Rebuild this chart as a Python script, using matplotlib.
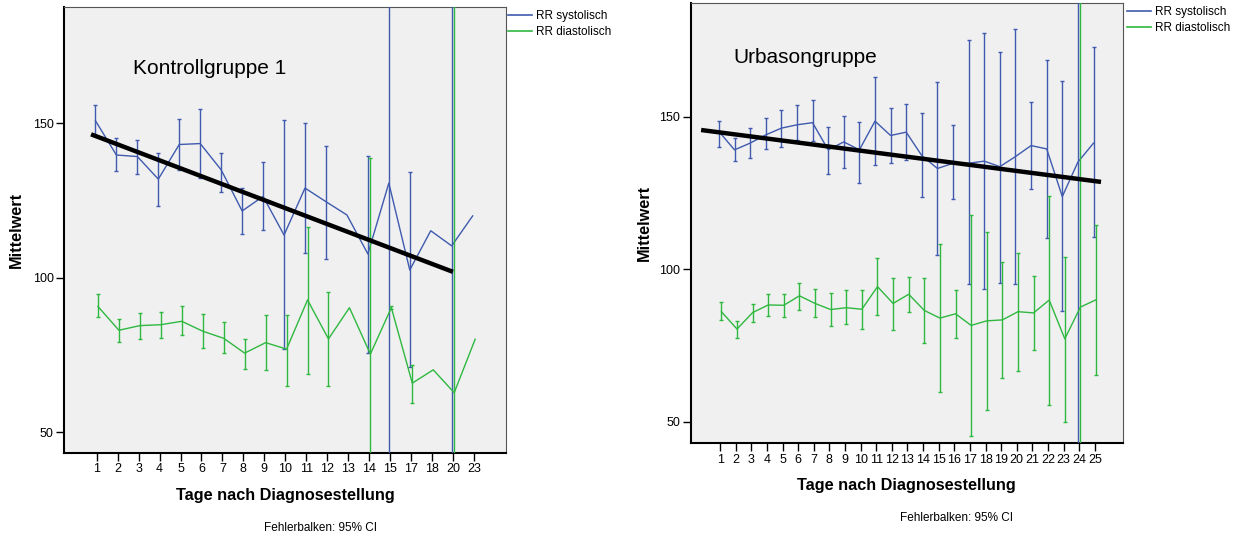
import numpy as np
import matplotlib
matplotlib.use("Agg")
import matplotlib.pyplot as plt
from matplotlib.lines import Line2D

plt.rcParams['font.family'] = ['Liberation Sans', 'DejaVu Sans']

# Kontrollgruppe 1
tage_k = ['1', '2', '3', '4', '5', '6', '7', '8', '9', '10', '11', '12', '13', '14', '15', '17', '18', '20', '23']
sys_k = [150.8, 139.7, 139.2, 131.9, 143.1, 143.4, 134.9, 121.6, 126.3, 113.8, 129.0, 124.6, 120.3, 107.7, 130.6, 102.5, 115.2, 110.3, 120.0]
sys_k_lo = [146.0, 134.6, 133.7, 123.2, 134.9, 132.3, 127.7, 114.2, 115.5, 76.9, 107.9, 106.0, np.nan, 75.8, 0.0, 71.0, np.nan, 0.0, np.nan]
sys_k_hi = [156.0, 145.1, 144.5, 140.3, 151.4, 154.5, 140.2, 129.0, 137.6, 151.0, 149.9, 142.6, np.nan, 139.4, 250.0, 134.3, np.nan, 250.0, np.nan]
dia_k = [90.7, 83.0, 84.5, 84.8, 85.9, 82.7, 80.4, 75.6, 79.0, 76.9, 92.8, 80.2, 90.3, 75.3, 90.3, 65.9, 70.2, 62.8, 80.1]
dia_k_lo = [87.2, 79.1, 80.3, 80.4, 81.4, 77.2, 75.6, 70.5, 70.1, 64.9, 68.8, 64.9, np.nan, 0.0, 89.9, 59.4, np.nan, 0.0, np.nan]
dia_k_hi = [94.8, 86.6, 88.5, 89.0, 90.9, 88.4, 85.6, 80.3, 87.9, 87.9, 116.5, 95.3, np.nan, 138.7, 90.7, 71.9, np.nan, 250.0, np.nan]
trend_k_x = [-0.27, 17.0]
trend_k_y = [146.4, 101.9]

# Urbasongruppe
tage_u = [str(t) for t in range(1, 26)]
sys_u = [145.1, 139.1, 141.3, 144.0, 146.2, 147.3, 148.0, 139.1, 141.7, 139.1, 148.5, 143.8, 144.9, 137.2, 133.0,
         134.7, 134.7, 135.4, 133.6, 136.9, 140.5, 139.4, 123.8, 135.1, 141.3]
sys_u_lo = [140.1, 135.5, 136.5, 139.3, 140.1, 142.3, 142.1, 131.2, 133.2, 128.3, 134.1, 134.7, 135.7, 123.6, 104.6,
            122.9, 95.1, 93.5, 95.4, 95.1, 126.2, 110.3, 86.4, 0.0, 110.4]
sys_u_hi = [148.7, 142.9, 146.3, 149.5, 152.2, 153.7, 155.4, 146.5, 150.2, 148.3, 163.1, 152.7, 154.1, 151.1, 161.3,
            147.2, 175.0, 177.3, 171.2, 178.6, 154.9, 168.5, 161.6, 250.0, 172.7]
dia_u = [86.1, 80.4, 85.8, 88.3, 88.2, 91.3, 88.8, 86.8, 87.4, 86.9, 94.3, 88.8, 91.8, 86.5, 84.0,
         85.4, 81.6, 83.1, 83.4, 86.1, 85.7, 89.9, 77.2, 87.6, 90.0]
dia_u_lo = [83.5, 77.4, 82.7, 84.8, 84.3, 86.8, 84.2, 81.4, 81.9, 80.4, 85.1, 80.1, 85.9, 76.0, 59.7,
            77.6, 45.4, 54.0, 64.3, 66.7, 73.5, 55.5, 50.1, 0.0, 65.3]
dia_u_hi = [89.2, 82.9, 88.7, 91.8, 91.9, 95.6, 93.5, 92.2, 93.1, 93.2, 103.7, 97.1, 97.6, 97.1, 108.2,
            93.2, 117.6, 112.1, 102.3, 105.3, 97.8, 124.1, 104.0, 250.0, 114.6]
trend_u_x = [-1.22, 24.4]
trend_u_y = [145.6, 128.6]

blau = '#3f5aae'
gruen = '#2fb840'


def serie(ax, mittel, lo, hi, farbe, versatz):
    x = np.arange(len(mittel)) + versatz
    ax.plot(x, mittel, color=farbe, lw=1.0, zorder=3)
    mittel = np.array(mittel)
    lo = np.array(lo)
    hi = np.array(hi)
    ok = ~np.isnan(lo)
    ax.errorbar(x[ok], mittel[ok], yerr=[mittel[ok] - lo[ok], hi[ok] - mittel[ok]],
                fmt='none', ecolor=farbe, elinewidth=1.0, capsize=1.5, capthick=1.0, zorder=3)


def panel(ax, tage, s, s_lo, s_hi, d, d_lo, d_hi, tx, ty, titel, titel_pos, xlim, ylim, versatz):
    ax.set_facecolor('#f0f0f0')
    serie(ax, s, s_lo, s_hi, blau, -versatz)
    serie(ax, d, d_lo, d_hi, gruen, versatz)
    ax.plot(tx, ty, color='black', lw=3.2, solid_capstyle='butt', zorder=4)
    ax.set_xticks(np.arange(len(tage)))
    ax.set_xticklabels(tage)
    ax.set_yticks([50, 100, 150])
    ax.set_xlim(xlim)
    ax.set_ylim(ylim)
    ax.tick_params(labelsize=9, length=5.5, width=1.0, pad=2, colors='black')
    for seite in ['left', 'bottom']:
        ax.spines[seite].set_linewidth(1.5)
    for seite in ['top', 'right']:
        ax.spines[seite].set_linewidth(0.8)
        ax.spines[seite].set_color('#555555')
    ax.set_xlabel('Tage nach Diagnosestellung', fontsize=11.7, fontweight='bold', labelpad=9)
    ax.set_ylabel('Mittelwert', fontsize=11.7, fontweight='bold')
    ax.yaxis.set_label_coords(-0.09, 0.5)
    ax.text(titel_pos[0], titel_pos[1], titel, transform=ax.transAxes, fontsize=15, va='center')


fig = plt.figure(figsize=(12.38, 5.39), dpi=100)
ax1 = fig.add_axes([0.0517, 0.1596, 0.357, 0.8275])
ax2 = fig.add_axes([0.558, 0.1776, 0.349, 0.8163])

panel(ax1, tage_k, sys_k, sys_k_lo, sys_k_hi, dia_k, dia_k_lo, dia_k_hi, trend_k_x, trend_k_y,
      'Kontrollgruppe 1', (0.156, 0.862), (-1.56, 19.53), (43.3, 187.6), 0.06)
panel(ax2, tage_u, sys_u, sys_u_lo, sys_u_hi, dia_u, dia_u_lo, dia_u_hi, trend_u_x, trend_u_y,
      'Urbasongruppe', (0.098, 0.877), (-1.88, 25.8), (43.0, 187.1), 0.08)

fig.text(320 / 1238, 1 - 528 / 539, 'Fehlerbalken: 95% CI', fontsize=8.5, ha='center', va='center')
fig.text(957 / 1238, 1 - 518 / 539, 'Fehlerbalken: 95% CI', fontsize=8.5, ha='center', va='center')

griffe = [Line2D([], [], color=blau, lw=1.2), Line2D([], [], color=gruen, lw=1.2)]
namen = ['RR systolisch', 'RR diastolisch']
for x0, y0 in [(507, 9), (1126, 5)]:
    fig.legend(griffe, namen, loc='upper left', bbox_to_anchor=(x0 / 1238, 1 - y0 / 539),
               frameon=False, fontsize=8.5, handlelength=2.0, handletextpad=0.35,
               labelspacing=0.3, borderaxespad=0, borderpad=0.1)

fig.savefig('out.png', dpi=100)
